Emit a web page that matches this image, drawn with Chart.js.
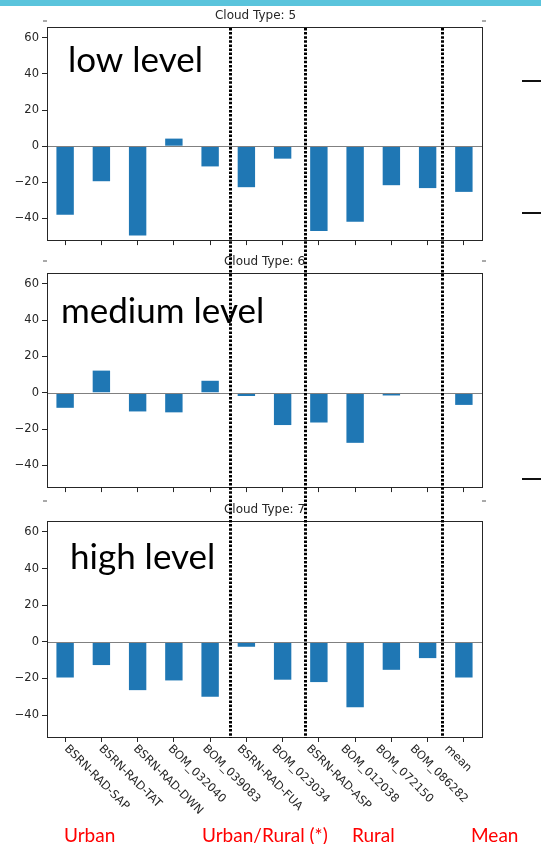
<!DOCTYPE html>
<html lang="en">
<head>
<meta charset="UTF-8">
<title>Cloud Type bias per station</title>
<script src="https://cdn.jsdelivr.net/npm/chart.js"></script>
<style>
    body { margin: 0; background: #fff; }
    #wrap { position: relative; width: 541px; height: 844px; overflow: hidden; }
    #band { position: absolute; left: 0; top: 0; width: 541px; height: 6px; background: #5ac4dc; }
    canvas { position: absolute; left: 0; }
    #overlay { top: 0; pointer-events: none; }
</style>
</head>
<body>
<div id="wrap">
    <div id="band"></div>
    <canvas id="c5" width="541" height="250" style="top:0px"></canvas>
    <canvas id="c6" width="541" height="247" style="top:250px"></canvas>
    <canvas id="c7" width="541" height="347" style="top:497px"></canvas>
    <canvas id="overlay" width="541" height="844"></canvas>
</div>
<script>
    // data
    const stations = ['BSRN-RAD-SAP', 'BSRN-RAD-TAT', 'BSRN-RAD-DWN', 'BOM_032040', 'BOM_039083',
        'BSRN-RAD-FUA', 'BOM_023034', 'BSRN-RAD-ASP', 'BOM_012038', 'BOM_072150', 'BOM_086282', 'mean'];
    const type5 = [-38, -19.4, -49.4, 4.2, -11.2, -22.7, -6.9, -46.9, -41.8, -21.6, -23.2, -25.3];
    const type6 = [-8.3, 12.2, -10.3, -10.8, 6.6, -1.8, -17.8, -16.4, -27.6, -1.5, -0.3, -6.7];
    const type7 = [-19.5, -12.7, -26.4, -21.1, -30, -2.7, -20.7, -22, -35.8, -15.3, -8.9, -19.5];
    const cloudTypes = [5, 6, 7];
    const levelNames = ['low level', 'medium level', 'high level'];
    const groupNames = ['Urban', 'Urban/Rural (*)', 'Rural', 'Mean'];
    const yTicks = [-40, -20, 0, 20, 40, 60];
    const yMin = -52, yMax = 66;
    // separators between station groups, in category index units
    const separators = [4.55, 6.63, 10.39];

    const tickFont = { family: 'DejaVu Sans', size: 11.5 };
    const ink = '#262626';

    const panelDecor = {
        id: 'panelDecor',
        afterDatasetsDraw(chart, args, opts) {
            const { ctx, chartArea: a, scales: { y } } = chart;
            ctx.save();
            // zero line
            const y0 = Math.round(y.getPixelForValue(0)) + 0.5;
            ctx.strokeStyle = '#808080';
            ctx.lineWidth = 1;
            ctx.beginPath();
            ctx.moveTo(a.left, y0);
            ctx.lineTo(a.right, y0);
            ctx.stroke();
            // frame
            ctx.strokeStyle = ink;
            ctx.strokeRect(Math.round(a.left) + 0.5, Math.round(a.top) + 0.5,
                Math.round(a.right - a.left), Math.round(a.bottom - a.top));
            // subplot title
            ctx.font = '12px "DejaVu Sans"';
            ctx.fillStyle = ink;
            ctx.textAlign = 'center';
            ctx.textBaseline = 'middle';
            ctx.fillText(opts.title, (a.left + a.right) / 2 + opts.titleShift, a.top - 11);
            // little leftover tick marks above the frame
            ctx.strokeStyle = '#555';
            ctx.beginPath();
            ctx.moveTo(a.left - 4, a.top - opts.markUp);
            ctx.lineTo(a.left, a.top - opts.markUp);
            ctx.moveTo(a.right, a.top - opts.markUp);
            ctx.lineTo(a.right + 4, a.top - opts.markUp);
            ctx.stroke();
            // level label
            ctx.font = '35px Lato';
            ctx.fillStyle = '#000';
            ctx.textAlign = 'left';
            ctx.textBaseline = 'alphabetic';
            ctx.fillText(opts.level, a.left + opts.levelDx, a.top + opts.levelDy);
            ctx.restore();
        }
    };

    function makePanel(id, values, idx, padTop, xHeight, extra) {
        return new Chart(document.getElementById(id), {
            type: 'bar',
            data: {
                labels: stations,
                datasets: [{
                    data: values,
                    backgroundColor: '#1f77b4',
                    borderWidth: 0,
                    barPercentage: 0.48,
                    categoryPercentage: 1.0
                }]
            },
            options: {
                responsive: false,
                animation: false,
                devicePixelRatio: 1,
                layout: { padding: { top: padTop, right: 59, bottom: 0, left: 0 } },
                plugins: {
                    legend: { display: false },
                    tooltip: { enabled: false },
                    panelDecor: Object.assign({
                        title: 'Cloud Type: ' + cloudTypes[idx],
                        level: levelNames[idx]
                    }, extra)
                },
                scales: {
                    x: {
                        offset: true,
                        grid: { offset: false, drawOnChartArea: false, tickLength: 5, color: ink },
                        border: { display: false },
                        ticks: { display: false },
                        afterFit: s => { s.height = xHeight; }
                    },
                    y: {
                        min: yMin,
                        max: yMax,
                        grid: { drawOnChartArea: false, tickLength: 5, color: ink },
                        border: { display: false },
                        ticks: {
                            padding: 3,
                            font: tickFont,
                            color: ink,
                            callback: v => String(v).replace('-', '\u2212')
                        },
                        afterBuildTicks: s => { s.ticks = yTicks.map(v => ({ value: v })); },
                        afterFit: s => { s.width = 47; }
                    }
                }
            },
            plugins: [panelDecor]
        });
    }

    const chart5 = makePanel('c5', type5, 0, 27, 7, { titleShift: -9, markUp: 6, levelDx: 21, levelDy: 45 });
    const chart6 = makePanel('c6', type6, 1, 23, 7, { titleShift: 0, markUp: 12, levelDx: 14, levelDy: 50 });
    const chart7 = makePanel('c7', type7, 2, 24, 107, { titleShift: 0, markUp: 20, levelDx: 23, levelDy: 48 });

    // overlay: group separators, station labels, group names, side dashes
    const oc = document.getElementById('overlay').getContext('2d');
    const top7 = 497;
    const xs = chart7.scales.x;
    const yTop = chart5.chartArea.top + 1;
    const yBottom = top7 + chart7.chartArea.bottom + 1;

    // station labels, rotated down to the right
    const t0 = xs.getPixelForTick(0);
    const step = xs.getPixelForTick(1) - t0;
    oc.save();
    oc.font = '11.5px "DejaVu Sans"';
    oc.fillStyle = ink;
    oc.textAlign = 'left';
    oc.textBaseline = 'top';
    stations.forEach((name, i) => {
        oc.save();
        oc.translate(t0 + 5 + i * step * 0.954, top7 + chart7.chartArea.bottom + 6);
        oc.rotate(Math.PI / 4);
        oc.fillText(name, 0, 0);
        oc.restore();
    });
    oc.restore();

    // dotted separators
    oc.save();
    oc.strokeStyle = '#000';
    oc.lineWidth = 3;
    oc.setLineDash([2.5, 1.6]);
    separators.forEach(v => {
        const px = Math.round(xs.getPixelForValue(v)) + 0.5;
        oc.beginPath();
        oc.moveTo(px, yTop);
        oc.lineTo(px, yBottom);
        oc.stroke();
    });
    oc.restore();

    // short dashes at the right edge
    oc.save();
    oc.strokeStyle = '#111';
    oc.lineWidth = 2;
    [81, 213, 479].forEach(py => {
        oc.beginPath();
        oc.moveTo(522, py);
        oc.lineTo(541, py);
        oc.stroke();
    });
    oc.restore();

    // group names
    oc.save();
    oc.font = '19px Lato';
    oc.fillStyle = '#ff0000';
    oc.textBaseline = 'alphabetic';
    const groupX = [64, 202, 352, 471];
    groupNames.forEach((g, i) => oc.fillText(g, groupX[i], 842));
    oc.restore();
</script>
</body>
</html>
